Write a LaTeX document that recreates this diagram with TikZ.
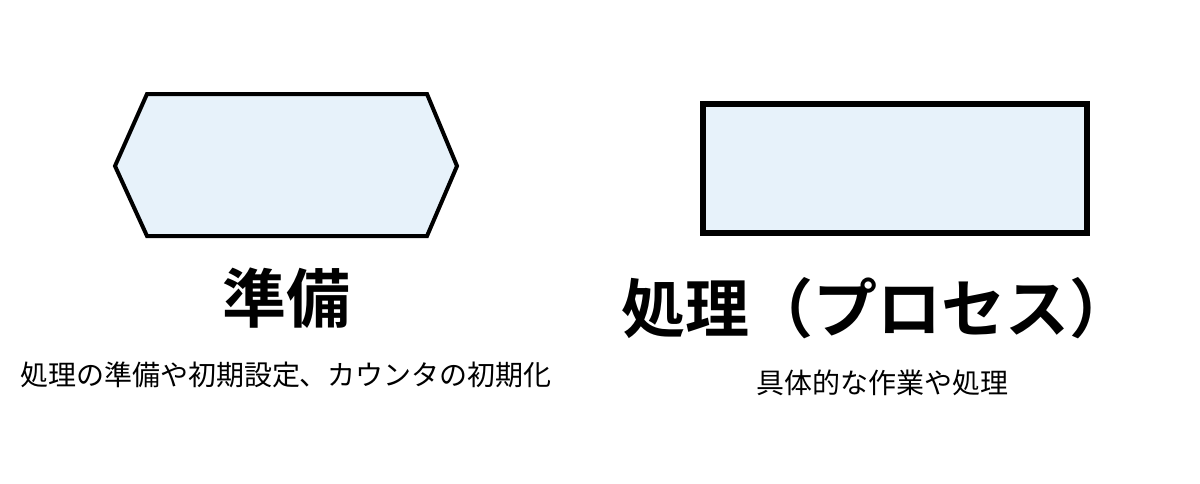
\documentclass[tikz,border=0pt]{standalone}
\usepackage{fontspec}
\newfontfamily\cjk{Noto Sans CJK JP}
\newfontfamily\cjkbold{Noto Sans CJK JP Bold}
\definecolor{boxfill}{HTML}{E7F2FA}
\begin{document}
\begin{tikzpicture}[x=1pt,y=-1pt,
  shapeline/.style={draw=black,fill=boxfill,line join=miter},
  titletext/.style={font=\cjkbold\fontsize{64}{70}\selectfont,inner sep=0pt,anchor=center},
  desctext/.style={font=\cjk\fontsize{28}{32}\selectfont,inner sep=0pt,anchor=center}]
\useasboundingbox (0,0) rectangle (1200,483);
% preparation hexagon
\draw[shapeline,line width=4] (147,94) -- (427,94) -- (457,166) -- (427,236) -- (147,236) -- (115,166) -- cycle;
% process rectangle
\draw[shapeline,line width=6] (703,104) rectangle (1087,233);
\node (t1) [titletext] at (286,298) {準備};
\node (d1) [desctext] at (286,375) {処理の準備や初期設定、カウンタの初期化};
\node (t2) [titletext] at (877,308) {処理（プロセス）};
\node (d2) [desctext] at (882,383) {具体的な作業や処理};
\end{tikzpicture}
\end{document}
